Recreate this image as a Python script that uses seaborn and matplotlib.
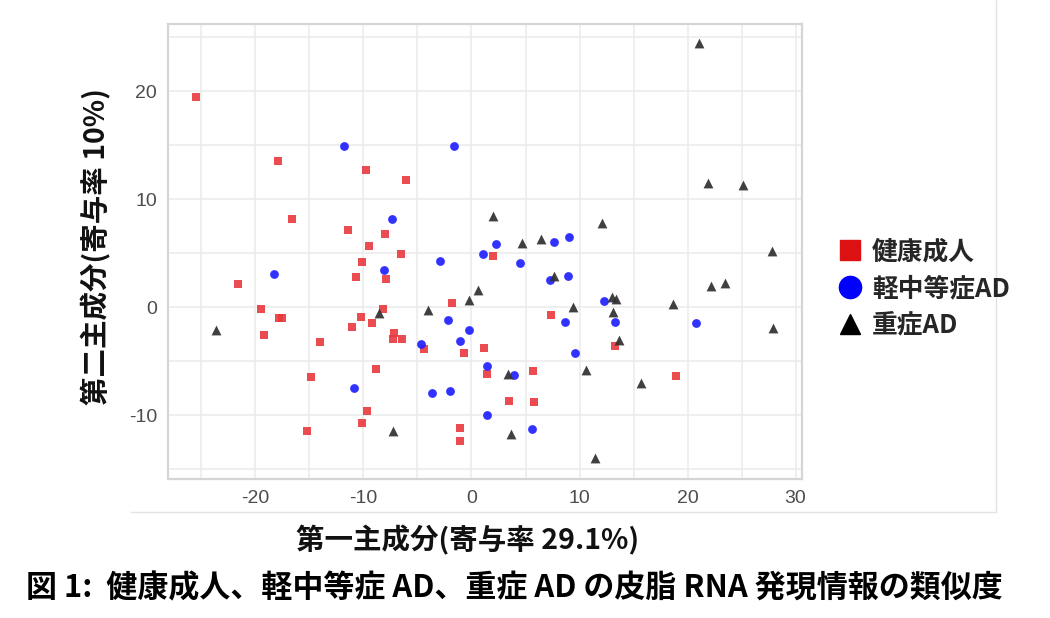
import matplotlib
matplotlib.use("Agg")
import matplotlib.pyplot as plt
from matplotlib.lines import Line2D
import seaborn as sns
import pandas as pd
import numpy as np

# ---- data ----
groups = ["健康成人", "軽中等症AD", "重症AD"]

healthy_x = [-25.5, -17.9, -9.75, -6.05, -16.6, -11.4, -8.0, -9.5, -6.5, -10.1, -10.7, -7.9,
             -21.6, -1.76, -19.5, -8.2, -17.8, -17.5, -10.25, -9.2, -19.2, -11.05, -7.2, -7.25,
             -6.4, -4.4, -0.7, 1.15, -14.0, -14.9, -8.8, 1.4, -9.7, -10.1, -15.2, -1.05, -1.1,
             2.0, 7.4, 13.3, 5.7, 18.9, 3.5, 5.8]
healthy_y = [19.4, 13.5, 12.7, 11.8, 8.2, 7.1, 6.8, 5.7, 4.9, 4.2, 2.8, 2.65,
             2.1, 0.4, -0.2, -0.2, -1.0, -1.0, -0.9, -1.5, -2.6, -1.85, -2.4, -2.9,
             -2.9, -3.9, -4.2, -3.8, -3.2, -6.5, -5.7, -6.2, -9.6, -10.7, -11.5, -11.2, -12.35,
             4.7, -0.7, -3.55, -5.9, -6.4, -8.7, -8.8]

mild_x = [-11.8, -1.6, -7.4, -2.9, 1.1, -8.1, -18.3, -2.2, -0.2, -1.05, -4.65, 1.4, -10.9,
          -3.7, -2.0, 1.4, 7.6, 9.0, 2.25, 4.5, 8.9, 7.3, 12.3, 8.7, 13.3, 20.8, 9.6, 3.9, 5.6]
mild_y = [14.9, 14.9, 8.2, 4.3, 4.9, 3.4, 3.1, -1.2, -2.1, -3.15, -3.45, -5.4, -7.5,
          -7.9, -7.8, -10.0, 6.05, 6.45, 5.8, 4.1, 2.9, 2.5, 0.55, -1.4, -1.4, -1.5, -4.2, -6.3, -11.3]

severe_x = [21.1, 21.9, 25.1, 2.0, 12.1, 4.7, 6.4, 27.8, 7.6, 22.2, 23.5, 13.0, 13.4, 13.1,
            18.7, 9.4, 27.9, 13.7, 3.4, 10.6, 15.7, 3.7, 11.4, 0.6, -0.2, -4.0, -8.6, -23.7, -7.3]
severe_y = [24.4, 11.45, 11.3, 8.4, 7.8, 5.95, 6.35, 5.2, 2.9, 2.0, 2.2, 0.9, 0.75, -0.45,
            0.3, 0.0, -1.9, -3.05, -6.2, -5.8, -7.0, -11.7, -14.0, 1.6, 0.7, -0.3, -0.55, -2.1, -11.5]

x_ticks = [-20, -10, 0, 10, 20, 30]
y_ticks = [-10, 0, 10, 20]
x_label = "第一主成分(寄与率 29.1%)"
y_label = "第二主成分(寄与率 10%)"
caption = "図 1:  健康成人、軽中等症 AD、重症 AD の皮脂 RNA 発現情報の類似度"

df = pd.DataFrame({
    "PC1": healthy_x + mild_x + severe_x,
    "PC2": healthy_y + mild_y + severe_y,
    "group": [groups[0]] * len(healthy_x) + [groups[1]] * len(mild_x) + [groups[2]] * len(severe_x),
})

sns.set_theme(style="white")
plt.rcParams["font.family"] = ["Noto Sans CJK JP", "DejaVu Sans"]
plt.rcParams["axes.unicode_minus"] = False

fig = plt.figure(figsize=(10.5, 6.18), dpi=100)
ax = fig.add_axes([168 / 1050, 1 - 479 / 618, (802 - 168) / 1050, (479 - 24) / 618])

palette = {groups[0]: "#e8383d", groups[1]: "#2020ff", groups[2]: "#303030"}
markers = {groups[0]: "s", groups[1]: "o", groups[2]: "^"}
sizes = {groups[0]: 38, groups[1]: 40, groups[2]: 50}

for g in groups:
    sub = df[df["group"] == g]
    sns.scatterplot(data=sub, x="PC1", y="PC2", color=palette[g], marker=markers[g],
                    s=sizes[g], alpha=0.9 if g == groups[0] else 0.92, linewidth=0,
                    ax=ax, legend=False, zorder=3)

ax.set_xlim(-28.1, 30.6)
ax.set_ylim(-15.9, 26.2)
ax.set_xticks(x_ticks)
ax.set_yticks(y_ticks)
ax.set_xticks(np.arange(-25, 31, 5), minor=True)
ax.set_yticks(np.arange(-15, 26, 5), minor=True)
ax.grid(True, which="both", color="#ebebeb", linewidth=1.1)
ax.set_axisbelow(True)
for sp in ax.spines.values():
    sp.set_color("#d5d5d5")
    sp.set_linewidth(1.6)
ax.tick_params(axis="both", which="major", length=3, color="#d5d5d5",
               labelsize=14, labelcolor="#4d4d4d", pad=5)
ax.tick_params(axis="both", which="minor", length=0)
for lab in ax.get_xticklabels() + ax.get_yticklabels():
    lab.set_family(["Liberation Sans", "DejaVu Sans"])
ax.set_xlabel("")
ax.set_ylabel("")

# axis titles
fig.text(468 / 1050, 1 - 540 / 618, x_label, ha="center", va="center",
         fontsize=20.5, fontweight="bold", color="#111111")
fig.text(96 / 1050, 1 - 247 / 618, y_label, ha="center", va="center", rotation=90,
         fontsize=20.5, fontweight="bold", color="#111111")

# legend
handles = [
    Line2D([], [], linestyle="none", marker="s", markersize=14, color="#dd1111"),
    Line2D([], [], linestyle="none", marker="o", markersize=16, color="#0000ff"),
    Line2D([], [], linestyle="none", marker="^", markersize=14, color="#000000"),
]
leg = fig.legend(handles, groups, loc="upper left", bbox_to_anchor=(826 / 1050, 1 - 228 / 618),
                 frameon=False, prop={"family": ["Noto Sans CJK JP"], "weight": "bold", "size": 18.5},
                 handletextpad=0.3, labelspacing=0.38, handlelength=1.1, borderaxespad=0)

# caption
fig.text(26 / 1050, 1 - 588 / 618, caption, ha="left", va="center",
         fontsize=22.3, fontweight="bold", color="#000000")

# faint frame of the original figure
fig.add_artist(Line2D([131 / 1050, 996 / 1050], [1 - 512 / 618, 1 - 512 / 618],
                      color="#e3e3e3", linewidth=1, transform=fig.transFigure))
fig.add_artist(Line2D([996 / 1050, 996 / 1050], [1 - 512 / 618, 1.0],
                      color="#e3e3e3", linewidth=1, transform=fig.transFigure))

fig.savefig("out.png", dpi=100, facecolor="white")
